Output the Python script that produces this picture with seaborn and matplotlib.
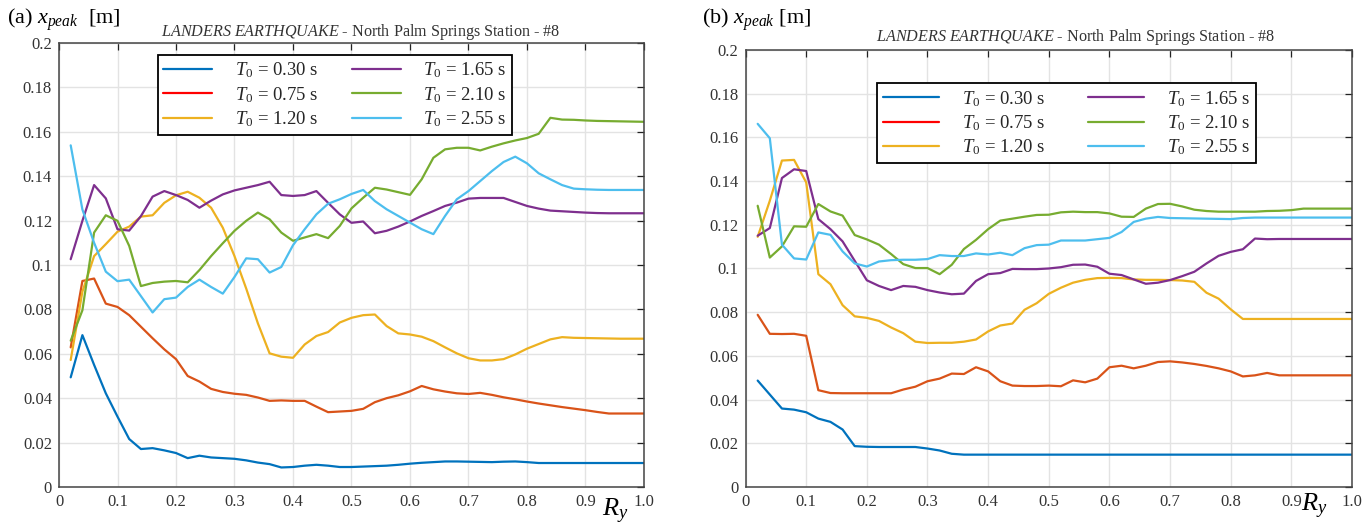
import numpy as np
import pandas as pd
import seaborn as sns
import matplotlib.pyplot as plt
from matplotlib.lines import Line2D

# ---------------------------------------------------------------------------- #
#                                    Data                                      #
# ---------------------------------------------------------------------------- #
ry = [0.02, 0.04, 0.06, 0.08, 0.10, 0.12, 0.14, 0.16, 0.18, 0.20,
      0.22, 0.24, 0.26, 0.28, 0.30, 0.32, 0.34, 0.36, 0.38, 0.40,
      0.42, 0.44, 0.46, 0.48, 0.50, 0.52, 0.54, 0.56, 0.58, 0.60,
      0.62, 0.64, 0.66, 0.68, 0.70, 0.72, 0.74, 0.76, 0.78, 0.80,
      0.82, 0.84, 0.86, 0.88, 0.90, 0.92, 0.94, 0.96, 0.98, 1.00]

periods = ["0.30", "0.75", "1.20", "1.65", "2.10", "2.55"]

# panel (a)
a_030 = [.0494, .0684, .0550, .0422, .0317, .0216, .0171, .0175, .0165, .0153,
         .0130, .0141, .0133, .0130, .0127, .0120, .0110, .0103, .0088, .0090,
         .0096, .0100, .0096, .0090, .0090, .0092, .0094, .0096, .0100, .0105,
         .0109, .0112, .0115, .0115, .0114, .0113, .0112, .0114, .0115, .0112,
         .0108, .0108, .0108, .0108, .0108, .0108, .0108, .0108, .0108, .0108]
a_075 = [.0629, .0928, .0939, .0826, .0811, .0774, .0722, .0670, .0620, .0576,
         .0500, .0475, .0442, .0428, .0420, .0415, .0403, .0388, .0390, .0388,
         .0388, .0362, .0337, .0340, .0343, .0352, .0382, .0400, .0413, .0431,
         .0455, .0440, .0430, .0422, .0419, .0424, .0415, .0404, .0395, .0385,
         .0376, .0368, .0360, .0353, .0346, .0338, .0331, .0331, .0331, .0331]
a_120 = [.0572, .0880, .1040, .1094, .1150, .1173, .1218, .1224, .1280, .1314,
         .1330, .1303, .1258, .1168, .1040, .0894, .0737, .0602, .0587, .0582,
         .0642, .0680, .0698, .0741, .0762, .0774, .0777, .0725, .0692, .0687,
         .0677, .0657, .0629, .0602, .0580, .0570, .0570, .0576, .0597, .0623,
         .0644, .0665, .0675, .0672, .0671, .0670, .0669, .0668, .0668, .0668]
a_165 = [.1026, .1199, .1360, .1300, .1161, .1155, .1220, .1308, .1333, .1315,
         .1293, .1258, .1290, .1318, .1336, .1348, .1360, .1375, .1315, .1311,
         .1315, .1333, .1280, .1228, .1190, .1196, .1143, .1154, .1173, .1196,
         .1221, .1243, .1266, .1281, .1299, .1302, .1302, .1302, .1284, .1266,
         .1254, .1245, .1242, .1239, .1236, .1234, .1233, .1233, .1233, .1233]
a_210 = [.0659, .0796, .1146, .1224, .1199, .1086, .0905, .0919, .0925, .0928,
         .0922, .0977, .1040, .1098, .1154, .1199, .1236, .1206, .1146, .1109,
         .1124, .1139, .1121, .1176, .1255, .1303, .1348, .1340, .1328, .1316,
         .1386, .1483, .1521, .1528, .1528, .1516, .1533, .1548, .1561, .1572,
         .1591, .1663, .1655, .1654, .1651, .1649, .1648, .1647, .1646, .1645]
a_255 = [.1539, .1250, .1100, .0970, .0927, .0934, .0860, .0786, .0846, .0853,
         .0901, .0934, .0901, .0871, .0946, .1030, .1026, .0966, .0991, .1089,
         .1161, .1228, .1276, .1296, .1320, .1338, .1288, .1251, .1221, .1191,
         .1161, .1139, .1221, .1296, .1333, .1378, .1423, .1464, .1488, .1458,
         .1413, .1386, .1360, .1344, .1341, .1339, .1338, .1338, .1338, .1338]

# panel (b)
b_030 = [.0487, .0423, .0359, .0354, .0342, .0313, .0298, .0263, .0187, .0184,
         .0183, .0183, .0183, .0183, .0176, .0167, .0152, .0148, .0148, .0148,
         .0148, .0148, .0148, .0148, .0148, .0148, .0148, .0148, .0148, .0148,
         .0148, .0148, .0148, .0148, .0148, .0148, .0148, .0148, .0148, .0148,
         .0148, .0148, .0148, .0148, .0148, .0148, .0148, .0148, .0148, .0148]
b_075 = [.0788, .0701, .0700, .0701, .0692, .0443, .0430, .0429, .0429, .0429,
         .0429, .0429, .0446, .0459, .0484, .0496, .0519, .0517, .0548, .0529,
         .0484, .0464, .0462, .0462, .0464, .0461, .0488, .0479, .0496, .0548,
         .0555, .0543, .0555, .0572, .0575, .0570, .0563, .0554, .0543, .0529,
         .0506, .0511, .0522, .0511, .0511, .0511, .0511, .0511, .0511, .0511]
b_120 = [.1145, .1310, .1494, .1497, .1394, .0974, .0928, .0832, .0781, .0774,
         .0760, .0730, .0704, .0665, .0659, .0660, .0660, .0665, .0675, .0712,
         .0739, .0748, .0811, .0841, .0884, .0912, .0935, .0948, .0956, .0957,
         .0956, .0950, .0948, .0948, .0947, .0945, .0939, .0889, .0862, .0813,
         .0769, .0769, .0769, .0769, .0769, .0769, .0769, .0769, .0769, .0769]
b_165 = [.1150, .1185, .1414, .1454, .1446, .1226, .1180, .1124, .1035, .0946,
         .0920, .0901, .0920, .0916, .0901, .0890, .0882, .0885, .0943, .0974,
         .0979, .0998, .0997, .0997, .1000, .1006, .1017, .1018, .1008, .0976,
         .0970, .0950, .0930, .0935, .0947, .0965, .0985, .1023, .1058, .1076,
         .1088, .1137, .1134, .1135, .1135, .1135, .1135, .1135, .1135, .1135]
b_210 = [.1287, .1050, .1101, .1193, .1191, .1295, .1261, .1242, .1153, .1133,
         .1109, .1066, .1020, .1002, .1002, .0974, .1017, .1089, .1131, .1180,
         .1219, .1228, .1237, .1245, .1246, .1257, .1260, .1258, .1258, .1252,
         .1237, .1236, .1274, .1295, .1296, .1284, .1269, .1263, .1260, .1260,
         .1260, .1260, .1263, .1264, .1267, .1274, .1274, .1274, .1274, .1274]
b_255 = [.1662, .1596, .1109, .1046, .1041, .1165, .1154, .1078, .1023, .1009,
         .1032, .1038, .1040, .1040, .1043, .1061, .1057, .1057, .1069, .1064,
         .1072, .1061, .1093, .1107, .1109, .1128, .1128, .1128, .1134, .1140,
         .1167, .1213, .1228, .1236, .1231, .1230, .1229, .1228, .1227, .1226,
         .1231, .1233, .1233, .1233, .1233, .1233, .1233, .1233, .1233, .1233]

x_ticks = [0, 0.1, 0.2, 0.3, 0.4, 0.5, 0.6, 0.7, 0.8, 0.9, 1.0]
x_ticklabels = ["0", "0.1", "0.2", "0.3", "0.4", "0.5", "0.6", "0.7", "0.8", "0.9", "1.0"]
y_ticks = [0, 0.02, 0.04, 0.06, 0.08, 0.1, 0.12, 0.14, 0.16, 0.18, 0.2]
y_ticklabels = ["0", "0.02", "0.04", "0.06", "0.08", "0.1", "0.12", "0.14", "0.16", "0.18", "0.2"]

# MATLAB default line colours
line_colors = ["#0072BD", "#D95319", "#EDB120", "#7E2F8E", "#77AC30", "#4DBEEE"]
legend_colors = ["#0072BD", "#FF0000", "#EDB120", "#7E2F8E", "#77AC30", "#4DBEEE"]


def to_long(series):
    frames = []
    for T0, vals in zip(periods, series):
        frames.append(pd.DataFrame({"Ry": ry, "xpeak": vals, "T0": T0}))
    return pd.concat(frames, ignore_index=True)


df_a = to_long([a_030, a_075, a_120, a_165, a_210, a_255])
df_b = to_long([b_030, b_075, b_120, b_165, b_210, b_255])

# ---------------------------------------------------------------------------- #
#                                   Style                                      #
# ---------------------------------------------------------------------------- #
sns.set_style("whitegrid")
plt.rcParams["font.family"] = ["Liberation Serif", "DejaVu Serif"]
plt.rcParams["mathtext.fontset"] = "custom"
plt.rcParams["mathtext.rm"] = "Liberation Serif"
plt.rcParams["mathtext.it"] = "Liberation Serif:italic"
plt.rcParams["mathtext.bf"] = "Liberation Serif:bold"

text_gray = "#333333"
serif = ["Liberation Serif", "DejaVu Serif"]

fig = plt.figure(figsize=(13.69, 5.25), dpi=100)
ax_a = fig.add_axes([0.0431, 0.0724, 0.4273, 0.8457])
ax_b = fig.add_axes([0.5446, 0.0724, 0.4430, 0.8324])


def style_axis(ax, df, legend_anchor, colspace, handlelen):
    sns.lineplot(data=df, x="Ry", y="xpeak", hue="T0", palette=line_colors,
                 linewidth=1.6, ax=ax, legend=False, sort=False)
    ax.set_xlim(0, 1.0)
    ax.set_ylim(0, 0.2)
    ax.set_xticks(x_ticks)
    ax.set_xticklabels(x_ticklabels, fontfamily=serif)
    ax.set_yticks(y_ticks)
    ax.set_yticklabels(y_ticklabels, fontfamily=serif)
    ax.set_xlabel("")
    ax.set_ylabel("")
    ax.grid(True, color="#e3e3e3", linewidth=1.0)
    ax.tick_params(direction="in", length=5, width=0.9, top=True, right=True,
                   labelsize=12, colors="#222222", labelcolor=text_gray, pad=5)
    for sp in ax.spines.values():
        sp.set_color("#444444")
        sp.set_linewidth(1.1)

    handles = [Line2D([0], [0], color=c, lw=1.6) for c in legend_colors]
    labels = [r"$T_0$ = %s s" % p for p in periods]
    leg = ax.legend(handles, labels, ncol=2, loc="upper left",
                    bbox_to_anchor=legend_anchor, fontsize=13.5, frameon=True,
                    fancybox=False, framealpha=1, edgecolor="black",
                    handlelength=handlelen, columnspacing=colspace, labelspacing=0.25,
                    borderpad=0.3, handletextpad=1.2, borderaxespad=0)
    leg.get_frame().set_linewidth(1.3)


style_axis(ax_a, df_a, (0.169, 0.973), 1.8, 2.6)
style_axis(ax_b, df_b, (0.217, 0.924), 2.3, 3.0)

title = r"$\mathit{LANDERS\ EARTHQUAKE}$ - North Palm Springs Station - #8"
fig.text(0.2633, 0.940, title, fontsize=11.6, color=text_gray, ha="center", va="center")
fig.text(0.786, 0.930, title, fontsize=11.6, color=text_gray, ha="center", va="center")

fig.text(0.005, 0.963, r"(a) $x_{peak}$  [m]", fontsize=16, color="black", va="center")
fig.text(0.513, 0.963, r"(b) $x_{peak}$ [m]", fontsize=16, color="black", va="center")

fig.text(0.440, 0.016, r"$R_y$", fontsize=19, color="black", va="baseline")
fig.text(0.950, 0.026, r"$R_y$", fontsize=19, color="black", va="baseline")

fig.savefig("out.png", dpi=100)
